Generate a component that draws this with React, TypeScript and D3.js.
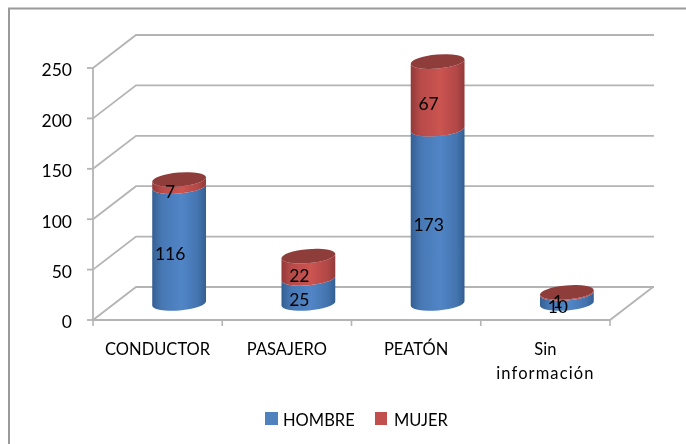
import React from "react";
import * as d3 from "d3";

const categories = ["CONDUCTOR", "PASAJERO", "PEATÓN", "Sin información"];
const categoryLines = [["CONDUCTOR"], ["PASAJERO"], ["PEATÓN"], ["Sin", "información"]];
const hombre = [116, 25, 173, 10];
const mujer = [7, 22, 67, 1];
const yTicks = [0, 50, 100, 150, 200, 250];
const FONT = "Lato, Carlito, Calibri, sans-serif";

const x0 = 93, x1 = 610, dx = 43, dy = -33;
const x = d3.scaleBand<string>().domain(categories).range([x0, x1]);
const y = d3.scaleLinear().domain([0, 250]).range([320, 68]);

const RX = 27, RY = 7, TILT = -5;
const tiltRad = (TILT * Math.PI) / 180;
const ex = RX * Math.cos(tiltRad), ey = RX * Math.sin(tiltRad);

function segment(cx: number, yBottom: number, yTop: number) {
  return `M${cx - ex},${yTop - ey} L${cx - ex},${yBottom - ey} A${RX},${RY} ${TILT} 0 0 ${cx + ex},${yBottom + ey} L${cx + ex},${yTop + ey} A${RX},${RY} ${TILT} 0 1 ${cx - ex},${yTop - ey} Z`;
}

function stops(edge: string, mid: string) {
  return (
    <>
      <stop offset="0%" stopColor={edge} />
      <stop offset="18%" stopColor={d3.interpolateRgb(edge, mid)(0.65)} />
      <stop offset="55%" stopColor={mid} />
      <stop offset="85%" stopColor={d3.interpolateRgb(edge, mid)(0.55)} />
      <stop offset="100%" stopColor={edge} />
    </>
  );
}

export default function App() {
  const base = (v: number) => y(v) - y(0);
  return (
    <svg width={686} height={444} style={{ position: "absolute", left: 0, top: 0, background: "#fff" }} fontFamily={FONT}>
      <defs>
        <linearGradient id="blue">{stops("#345f92", "#5185c6")}</linearGradient>
        <linearGradient id="red">{stops("#93393a", "#cb5451")}</linearGradient>
        <filter id="soft" x="-5%" y="-5%" width="110%" height="110%">
          <feGaussianBlur stdDeviation="0.45" />
        </filter>
        <filter id="softText" x="-5%" y="-5%" width="110%" height="110%">
          <feGaussianBlur stdDeviation="0.25" />
        </filter>
      </defs>

      <path d="M9,444 V8.5 H686" fill="none" stroke="#9a9a9a" strokeWidth={2} />

      <g filter="url(#soft)">
        {yTicks.map((t) => (
          <g key={t} fill="none" stroke="#b4b4b4" strokeWidth={1.8}>
            <path d={`M${x0},${y(t)} L${x0 + dx},${y(t) + dy} H${x1 + dx + 1}`} />
            <line x1={x0 - 6} x2={x0} y1={y(t)} y2={y(t)} />
          </g>
        ))}
        <path d={`M${x0},${y(250)} V${y(0)} H${x1} L${x1 + dx},${y(0) + dy}`} fill="none" stroke="#b4b4b4" strokeWidth={1.8} />
        {d3.range(0, 5).map((i) => {
          const px = x0 + i * x.step();
          return <line key={i} x1={px} x2={px} y1={y(0)} y2={y(0) + 6} stroke="#b4b4b4" strokeWidth={1.6} />;
        })}

        {categories.map((c, i) => {
          const cx = x(c)! + x.bandwidth() / 2 + dx / 2;
          const yb = y(0) + dy / 2;
          const yh = yb + base(hombre[i]);
          const ym = yb + base(hombre[i] + mujer[i]);
          return (
            <g key={c}>
              <path d={segment(cx, yb, yh)} fill="url(#blue)" />
              <path d={segment(cx, yh, ym)} fill="url(#red)" />
              <ellipse cx={cx} cy={ym} rx={RX} ry={RY} transform={`rotate(${TILT} ${cx} ${ym})`} fill="#8f3c3b" />
            </g>
          );
        })}
      </g>

      <g fill="#000" filter="url(#softText)">
        {yTicks.map((t) => (
          <text key={t} x={72} y={y(t) + 2} dy="0.36em" textAnchor="end" fontSize={17.5}>{t}</text>
        ))}
        {categories.map((c, i) => {
          const cx = x(c)! + x.bandwidth() / 2;
          const lx = cx + dx / 2 - 9;
          const ly = y(0) - 8;
          return (
            <g key={c} textAnchor="middle">
              <text x={lx} y={ly + base(hombre[i] / 2)} dy="0.36em" fontSize={17.5}>{hombre[i]}</text>
              <text x={lx} y={ly + base(hombre[i] + mujer[i] / 2)} dy="0.36em" fontSize={17.5}>{mujer[i]}</text>
              {categoryLines[i].map((l, k) => (
                <text key={l} x={cx} y={349 + k * 24} dy="0.36em" fontSize={16.5} letterSpacing={l.length > 9 ? 1.1 : 0}>{l}</text>
              ))}
            </g>
          );
        })}
        <g fontSize={16.5}>
          <rect x={265} y={412} width={13} height={13} fill="#4f81bd" />
          <text x={283} y={420} dy="0.36em">HOMBRE</text>
          <rect x={375} y={412} width={12} height={13} fill="#c0504d" />
          <text x={394} y={420} dy="0.36em">MUJER</text>
        </g>
      </g>
    </svg>
  );
}
